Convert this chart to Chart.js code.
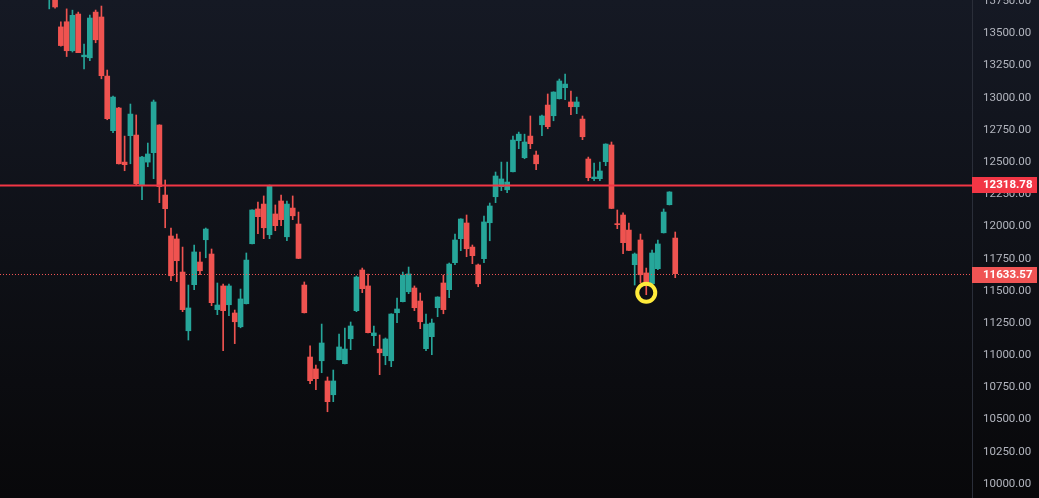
<!DOCTYPE html>
<html>
<head>
<meta charset="utf-8">
<script src="https://cdn.jsdelivr.net/npm/chart.js@4.4.1/dist/chart.umd.min.js"></script>
<style>
  html, body { margin: 0; padding: 0; }
  body { width: 1039px; height: 498px; overflow: hidden; background: linear-gradient(#151924, #08080a); }
  #wrap { position: relative; width: 1039px; height: 498px; }
</style>
</head>
<body>
<div id="wrap"><canvas id="chart"></canvas></div>
<script>
// candle OHLC (one entry per candle, left to right)
const opens = [
  13775, 13820, 13550, 13590, 13365, 13650, 13318, 13310, 13665, 13627,
  13168, 12744, 12920, 12500, 12705, 12710, 12324, 12500, 12573, 12788,
  12244, 11926, 11903, 11646, 11190, 11548, 11724, 11897, 11786, 11354,
  11538, 11392, 11328, 11221, 11400, 11866, 12136, 12174, 11936, 12097,
  12198, 11920, 12143, 12019, 11545, 10986, 10893, 10957, 10800, 10693,
  10965, 10934, 11128, 11346, 11662, 11538, 11152, 11048, 10996, 10957,
  11330, 11416, 11493, 11522, 11421, 11051, 11144, 11369, 11561, 11509,
  11719, 11905, 12027, 11840, 11701, 11750, 12029, 12231, 12309, 12285,
  12425, 12666, 12534, 12702, 12555, 12790, 12943, 12860, 12992, 13078,
  12967, 12930, 12834, 12524, 12371, 12371, 12503, 12633, 12019, 12089,
  11972, 11703, 11895, 11639, 11555, 11672, 11951, 12169, 11910
];
const highs = [
  13955, 13850, 13590, 13690, 13680, 13665, 13417, 13642, 13681, 13712,
  13215, 13013, 12925, 12702, 12951, 12866, 12545, 12648, 12982, 12790,
  12361, 11988, 11941, 11840, 11545, 11856, 11802, 11988, 11825, 11561,
  11553, 11553, 11351, 11514, 11794, 12130, 12190, 12237, 12322, 12167,
  12244, 12198, 12237, 12112, 11569, 11072, 10924, 11242, 10831, 10885,
  11165, 11211, 11258, 11615, 11677, 11631, 11227, 11157, 11134, 11322,
  11444, 11646, 11685, 11538, 11483, 11320, 11281, 11454, 11623, 11716,
  11941, 12060, 12089, 11856, 11708, 12081, 12182, 12423, 12500, 12500,
  12702, 12733, 12717, 12858, 12586, 12866, 13029, 13046, 13145, 13184,
  13052, 13005, 12858, 12539, 12493, 12500, 12642, 12656, 12128, 12105,
  12027, 11794, 11941, 11677, 11817, 11895, 12136, 12270, 11957
];
const lows = [
  13690, 13695, 13400, 13320, 13355, 13350, 13223, 13287, 13427, 13147,
  12829, 12728, 12485, 12433, 12487, 12324, 12208, 12464, 12371, 12185,
  11990, 11579, 11571, 11338, 11118, 11509, 11625, 11757, 11385, 11315,
  11035, 11307, 11090, 11213, 11398, 11864, 11944, 11905, 11905, 11967,
  12006, 11889, 12053, 11750, 11328, 10779, 10732, 10864, 10561, 10639,
  10963, 10932, 11043, 11338, 11486, 11173, 11074, 10849, 10926, 10911,
  11253, 11414, 11478, 11346, 11206, 11035, 11004, 11299, 11322, 11447,
  11703, 11812, 11765, 11711, 11532, 11719, 11889, 12185, 12278, 12262,
  12423, 12604, 12526, 12604, 12441, 12705, 12759, 12821, 12990, 12984,
  12868, 12876, 12674, 12355, 12355, 12355, 12472, 12138, 11983, 11788,
  11812, 11545, 11563, 11470, 11553, 11664, 11949, 12167, 11602
];
const closes = [
  13915, 13705, 13405, 13365, 13640, 13350, 13331, 13619, 13450, 13171,
  12837, 13005, 12487, 12480, 12873, 12332, 12539, 12563, 12967, 12309,
  12138, 11617, 11734, 11354, 11367, 11802, 11656, 11980, 11408, 11390,
  11346, 11538, 11260, 11437, 11739, 12128, 12076, 11990, 12314, 12006,
  12053, 12174, 12083, 11752, 11330, 10802, 10818, 11095, 10639, 10800,
  11064, 11048, 11227, 11607, 11517, 11175, 11173, 11019, 11126, 11320,
  11359, 11623, 11631, 11369, 11260, 11242, 11250, 11452, 11354, 11708,
  11895, 12058, 11827, 11773, 11555, 12035, 12159, 12392, 12369, 12345,
  12671, 12717, 12656, 12643, 12487, 12858, 12775, 13044, 13130, 13106,
  12930, 12967, 12697, 12379, 12384, 12431, 12640, 12140, 12014, 11874,
  11814, 11786, 11625, 11540, 11794, 11864, 12112, 12268, 11633.57
];

const tickValues = [10000, 10250, 10500, 10750, 11000, 11250, 11500, 11750,
  12000, 12250, 12500, 12750, 13000, 13250, 13500, 13750];

const levelLine = 12318.78;   // solid horizontal line
const lastPrice = 11633.57;   // dotted last-price line
const markedCandle = 103;     // candle with the yellow ring
const markedValue = 11485;

const UP = '#26a69a';
const DOWN = '#ef5350';
const candleColors = opens.map((o, i) => closes[i] >= o ? UP : DOWN);

const bodies = opens.map((o, i) => ({ x: i, y: [o, closes[i]] }));
const wicks = lows.map((l, i) => ({ x: i, y: [l, highs[i]] }));

// horizontal price lines and their axis labels
const priceLines = {
  id: 'priceLines',
  afterDraw(chart) {
    const { ctx, chartArea, scales: { y } } = chart;
    ctx.save();

    const yl = y.getPixelForValue(levelLine);
    ctx.strokeStyle = '#f23645';
    ctx.lineWidth = 2;
    ctx.beginPath();
    ctx.moveTo(chartArea.left, yl);
    ctx.lineTo(chartArea.right, yl);
    ctx.stroke();

    const yp = Math.round(y.getPixelForValue(lastPrice)) + 0.5;
    ctx.strokeStyle = '#f05454';
    ctx.lineWidth = 1;
    ctx.setLineDash([1, 2]);
    ctx.beginPath();
    ctx.moveTo(chartArea.left, yp);
    ctx.lineTo(chartArea.right, yp);
    ctx.stroke();
    ctx.setLineDash([]);

    const tag = (val, py, color) => {
      ctx.fillStyle = color;
      ctx.fillRect(y.left, Math.round(py) - 8, 65, 16);
      ctx.fillStyle = '#ffffff';
      ctx.font = 'bold 11.5px Roboto';
      ctx.textBaseline = 'middle';
      ctx.textAlign = 'left';
      ctx.fillText(val.toFixed(2), y.left + 11, Math.round(py) + 0.5);
    };
    tag(levelLine, yl, '#f23645');
    tag(lastPrice, yp, '#f05454');
    ctx.restore();
  }
};

new Chart(document.getElementById('chart'), {
  type: 'bar',
  data: {
    datasets: [
      {
        type: 'scatter',
        data: [{ x: markedCandle, y: markedValue }],
        pointStyle: 'circle',
        pointRadius: 9,
        borderWidth: 4,
        borderColor: '#ffeb3b',
        backgroundColor: 'rgba(0,0,0,0)'
      },
      {
        data: bodies,
        backgroundColor: candleColors,
        barThickness: 5,
        minBarLength: 1,
        grouped: false
      },
      {
        data: wicks,
        backgroundColor: candleColors,
        barThickness: 1,
        grouped: false
      }
    ]
  },
  options: {
    responsive: true,
    maintainAspectRatio: false,
    animation: false,
    layout: { padding: 0, autoPadding: false },
    plugins: {
      legend: { display: false },
      tooltip: { enabled: false }
    },
    scales: {
      x: {
        type: 'linear',
        min: -8.5,
        max: 159.2,
        offset: false,
        display: false
      },
      y: {
        position: 'right',
        min: 9891,
        max: 13759,
        beginAtZero: false,
        grid: { display: false, drawTicks: false },
        border: { display: true, color: '#2a2e39', width: 1 },
        afterBuildTicks: (s) => { s.ticks = tickValues.map(v => ({ value: v })); },
        afterFit: (s) => { s.width = 67; s.paddingTop = 0; s.paddingBottom = 0; },
        ticks: {
          autoSkip: false,
          padding: 11,
          color: '#b2b5be',
          font: { family: 'Roboto', size: 11.5 },
          callback: (v) => Number(v).toFixed(2)
        }
      }
    }
  },
  plugins: [priceLines]
});
</script>
</body>
</html>
